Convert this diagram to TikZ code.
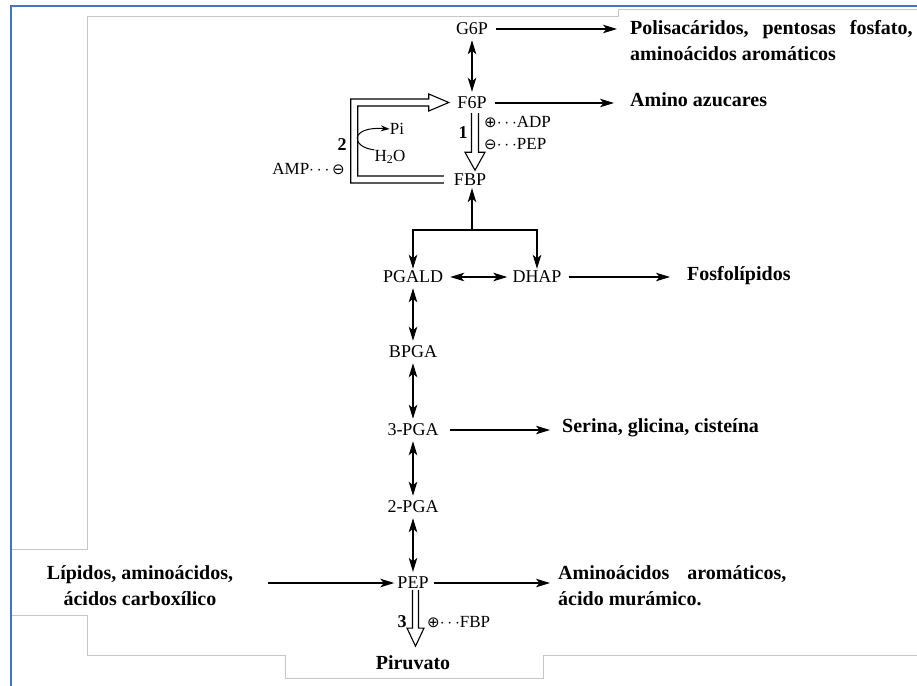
\documentclass[tikz,border=0pt]{standalone}
\usepackage{fontspec}
\setmainfont{Liberation Serif}
\newfontfamily\symfont{DejaVu Sans}
\usetikzlibrary{arrows.meta,positioning,calc}
\definecolor{frameblue}{HTML}{4472C4}

\tikzset{
	met/.style={inner sep=2pt,font=\fontsize{18}{20}\selectfont},
	prod/.style={inner sep=0pt,align=left,font=\fontsize{20}{26}\selectfont\bfseries},
	eff/.style={inner sep=0pt,font=\fontsize{17}{20}\selectfont},
	num/.style={inner sep=0pt,font=\fontsize{18}{20}\selectfont\bfseries},
	flux/.style={line width=1.2pt,-{Stealth[length=14pt,width=8.5pt,inset=3.5pt]}},
	rev/.style={line width=1.2pt,shorten <=3pt,shorten >=3pt,{Stealth[length=14pt,width=8.5pt,inset=3.5pt]}-{Stealth[length=14pt,width=8.5pt,inset=3.5pt]}},
	hollow/.style={line width=1.1pt,line join=miter},
	paper/.style={draw=black!22,line width=1pt},
}

\begin{document}
\begin{tikzpicture}[x=1pt,y=-1pt]

			\useasboundingbox (0,0) rectangle (917,685);
			\fill[white] (0,0) rectangle (917,685);

			\draw[paper] (12,549) -- (87,549) -- (87,17) -- (618,17) -- (618,10) -- (917,10);
			\draw[paper] (12,615) -- (87,615) -- (87,655) -- (285,655) -- (285,678) -- (543,678) -- (543,655) -- (917,655);
			\draw[frameblue,line width=2.5pt] (11,690) -- (11,6) -- (920,6);

			\node[met] (g6p) at (472,29) {G6P};
			\node[met] (f6p) at (472,103) {F6P};
			\node[met] (fbp) at (470,180) {FBP};
			\node[met] (pgald) at (413,277) {PGALD};
			\node[met] (dhap) at (537,277) {DHAP};
			\node[met] (bpga) at (413,352) {BPGA};
			\node[met] (pga3) at (413,430) {3-PGA};
			\node[met] (pga2) at (413,507) {2-PGA};
			\node[met] (pep) at (413,583) {PEP};
			\node[prod] (piruv) at (413,663) {Piruvato};

			\node[prod,anchor=west] (polisac) at (630,41) {Polisacáridos,\hspace{14pt}pentosas\hspace{14pt}fosfato,\\aminoácidos aromáticos};
			\node[prod,anchor=west] (aminoaz) at (630,100) {Amino azucares};
			\node[prod,anchor=west] (fosfo) at (687,276) {Fosfolípidos};
			\node[prod,anchor=west] (serina) at (562,428) {Serina, glicina, cisteína};
			\node[prod,anchor=west] (aromat) at (558,586) {Aminoácidos\hspace{18pt}aromáticos,\\ácido murámico.};
			\node[prod,align=center] (lipidos) at (140,586) {Lípidos, aminoácidos,\\ácidos carboxílico};

			\node[eff,anchor=west] (adp) at (484,122) {{\symfont\fontsize{15}{15}\selectfont ⊕}$\cdots$ADP};
			\node[eff,anchor=west] (pepinh) at (484,144) {{\symfont\fontsize{15}{15}\selectfont ⊖}$\cdots$PEP};
			\node[eff,anchor=east] (amp) at (345,169) {AMP$\cdots$\,{\symfont\fontsize{15}{15}\selectfont ⊖}};
			\node[eff,anchor=west] (fbpact) at (427,622) {{\symfont\fontsize{15}{15}\selectfont ⊕}$\cdots$FBP};

			\node[num] (n1) at (463,133) {1};
			\node[num] (n2) at (342,145) {2};
			\node[num] (n3) at (402,622) {3};

			\node[eff] (pi) at (397,129) {Pi};
			\node[eff] (h2o) at (390,157) {H\textsubscript{2}O};

			\draw[rev] (g6p) -- (f6p);
			\draw[flux,shorten <=6pt,shorten >=13pt] (g6p.east) -- (g6p.east -| polisac.west);
			\draw[flux,shorten <=6pt,shorten >=16pt] (f6p.east) -- (f6p.east -| aminoaz.west);

			\draw[hollow] ($(f6p.south)+(-0.5,2)$) -- ++(0,39) -- ++(-6.5,0) -- ++(10,18) -- ++(10,-18) -- ++(-6.5,0) -- ++(0,-39);
			\draw[hollow] ($(fbp.west)+(-8,3)$) -- ++(-93,0) -- ++(0,-84) -- ++(78,0) -- ++(0,-5) -- ++(20,8.5) -- ++(-20,8.5) -- ++(0,-5) -- ++(-71,0) -- ++(0,70) -- ++(86,0);
			\draw[line width=1pt,-{Stealth[length=9pt,width=6pt]}] (h2o.north west) .. controls (350,147) and (350,126) .. (pi.west);

			\coordinate (split) at (472,230);
			\draw[flux] (split) -- (split |- fbp.south);
			\draw[flux] (split) -| (pgald.north);
			\draw[flux] (split) -| (dhap.north);

			\draw[rev,shorten <=5pt] (pgald) -- (dhap);
			\draw[flux,shorten <=5pt,shorten >=17pt] (dhap.east) -- (dhap.east -| fosfo.west);

			\draw[rev] (pgald) -- (bpga);
			\draw[rev] (bpga) -- (pga3);
			\draw[rev] (pga3) -- (pga2);
			\draw[rev] (pga2) -- (pep);
			\draw[flux,shorten <=9pt,shorten >=12pt] (pga3.east) -- (pga3.east -| serina.west);

			\draw[flux,shorten <=35pt,shorten >=1pt] (lipidos.east |- pep.west) -- (pep.west);
			\draw[flux,shorten <=3pt,shorten >=8pt] (pep.east) -- (pep.east -| aromat.west);
			\draw[hollow] ($(pep.south)+(-0.5,-1)$) -- ++(0,38) -- ++(-5.5,0) -- ++(8.5,18) -- ++(8.5,-18) -- ++(-5.5,0) -- ++(0,-38);

		\end{tikzpicture}
\end{document}
